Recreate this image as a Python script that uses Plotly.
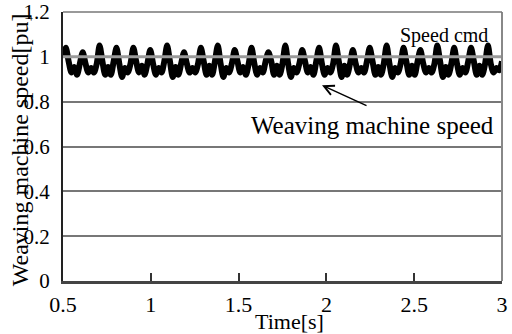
import numpy as np
import plotly.graph_objects as go

# Measured weaving machine speed [pu]; six samples per load cycle:
# spike, fall, first dip, shoulder, second dip, rise
speed = [
    1.00,
    1.04, 0.98, 0.93, 0.955, 0.92, 0.97,
    1.02, 0.97, 0.93, 0.950, 0.93, 0.97,
    1.05, 0.98, 0.92, 0.955, 0.92, 0.98,
    1.04, 0.97, 0.91, 0.950, 0.93, 0.97,
    1.04, 0.98, 0.93, 0.960, 0.92, 0.97,
    1.03, 0.97, 0.92, 0.950, 0.93, 0.98,
    1.05, 0.98, 0.91, 0.955, 0.92, 0.97,
    1.02, 0.97, 0.93, 0.950, 0.93, 0.97,
    1.04, 0.98, 0.92, 0.960, 0.92, 0.98,
    1.05, 0.97, 0.91, 0.950, 0.93, 0.97,
    1.03, 0.98, 0.93, 0.955, 0.92, 0.97,
    1.04, 0.97, 0.92, 0.950, 0.93, 0.98,
    1.02, 0.98, 0.92, 0.960, 0.92, 0.97,
    1.05, 0.97, 0.91, 0.950, 0.93, 0.97,
    1.03, 0.98, 0.93, 0.955, 0.92, 0.98,
    1.04, 0.97, 0.92, 0.950, 0.93, 0.97,
    1.05, 0.98, 0.91, 0.960, 0.92, 0.97,
    1.03, 0.97, 0.93, 0.950, 0.93, 0.98,
    1.04, 0.98, 0.92, 0.955, 0.92, 0.97,
    1.05, 0.97, 0.91, 0.950, 0.93, 0.97,
    1.04, 0.98, 0.92, 0.960, 0.92, 0.98,
    1.03, 0.97, 0.93, 0.950, 0.93, 0.97,
    1.05, 0.98, 0.91, 0.955, 0.92, 0.97,
    1.04, 0.97, 0.92, 0.950, 0.93, 0.98,
    1.04, 0.98, 0.92, 0.960, 0.92, 0.97,
    1.05, 0.97, 0.93, 0.950, 0.94, 0.98,
]
time = np.linspace(0.5, 3.0, len(speed))

cmd_time = [0.5, 3.0]
cmd_speed = [1.0, 1.0]

x_ticks = [0.5, 1, 1.5, 2, 2.5, 3]
x_labels = ["0.5", "1", "1.5", "2", "2.5", "3"]
y_ticks = [0, 0.2, 0.4, 0.6, 0.8, 1.0, 1.2]
y_labels = ["0", "0.2", "0.4", "0.6", "0.8", "1", "1.2"]

FONT = "Liberation Serif, serif"

fig = go.Figure()
fig.add_trace(go.Scatter(
    x=time, y=speed, mode="lines",
    line=dict(color="black", width=6, shape="spline", smoothing=0.8),
    hoverinfo="skip",
))
fig.add_trace(go.Scatter(
    x=cmd_time, y=cmd_speed, mode="lines",
    line=dict(color="#9a9a9a", width=3),
    hoverinfo="skip",
))

fig.update_layout(
    width=512, height=334,
    margin=dict(l=63, r=10, t=12, b=53, autoexpand=False),
    paper_bgcolor="white", plot_bgcolor="white",
    showlegend=False,
    font=dict(family=FONT, size=20, color="black"),
    xaxis=dict(
        range=[0.5, 3.0], tickvals=x_ticks, ticktext=x_labels,
        ticks="inside", ticklen=8, tickwidth=1.5, tickcolor="#333333",
        showgrid=False, zeroline=False,
        showline=True, linecolor="#444444", linewidth=3, mirror=False,
        tickfont=dict(family=FONT, size=22, color="black"), ticklabelstandoff=2,
    ),
    yaxis=dict(
        range=[0, 1.2], tickvals=y_ticks, ticktext=y_labels,
        ticks="", showgrid=True, gridcolor="#777777", gridwidth=1.5,
        zeroline=False, showline=True, linecolor="#222222", linewidth=2,
        tickfont=dict(family=FONT, size=21, color="black"), ticklabelstandoff=7,
    ),
    shapes=[
        dict(type="line", xref="paper", yref="paper", x0=1, x1=1, y0=0, y1=1,
             line=dict(color="#888888", width=2)),
        dict(type="line", xref="paper", yref="paper", x0=0, x1=1, y0=1, y1=1,
             line=dict(color="#777777", width=1.5)),
    ],
    annotations=[
        dict(text="Speed cmd", x=2.93, y=1.097, xref="x", yref="y",
             xanchor="right", yanchor="middle", showarrow=False,
             font=dict(family=FONT, size=20)),
        dict(text="Weaving machine speed", x=2.965, y=0.694, xref="x", yref="y",
             xanchor="right", yanchor="middle", showarrow=False,
             font=dict(family=FONT, size=25)),
        dict(text="", x=1.975, y=0.873, xref="x", yref="y",
             showarrow=True, ax=46, ay=21, arrowhead=5, arrowsize=1.3,
             arrowwidth=1.5, arrowcolor="black", standoff=0),
        dict(text="Time[s]", x=0.517, y=-0.152, xref="paper", yref="paper",
             xanchor="center", yanchor="middle", showarrow=False,
             font=dict(family=FONT, size=22)),
        dict(text="Weaving machine speed[pu]", x=-0.098, y=0.49,
             xref="paper", yref="paper", textangle=-90,
             xanchor="center", yanchor="middle", showarrow=False,
             font=dict(family=FONT, size=24)),
    ],
)

fig.write_html("out.html")
